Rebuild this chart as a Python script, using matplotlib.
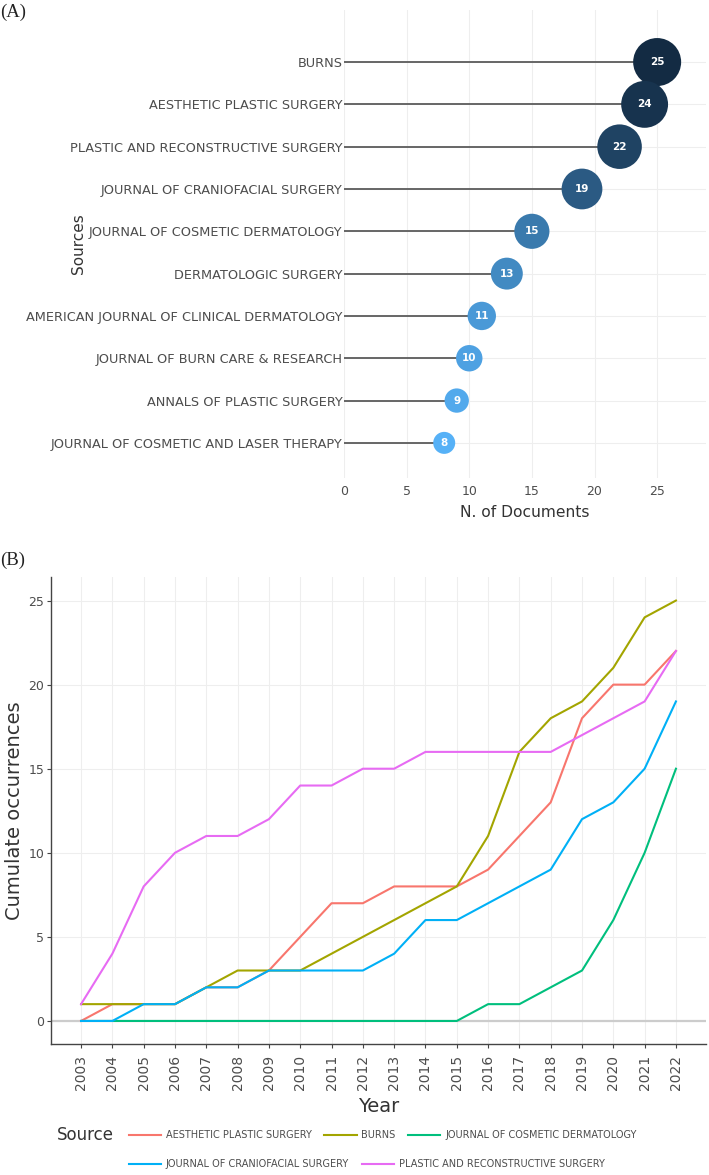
import numpy as np
import matplotlib.pyplot as plt
from matplotlib.colors import LinearSegmentedColormap
from matplotlib.lines import Line2D

plt.rcParams['font.family'] = ['DejaVu Sans']

# panel A data (top to bottom)
sources = ['BURNS', 'AESTHETIC PLASTIC SURGERY', 'PLASTIC AND RECONSTRUCTIVE SURGERY',
           'JOURNAL OF CRANIOFACIAL SURGERY', 'JOURNAL OF COSMETIC DERMATOLOGY',
           'DERMATOLOGIC SURGERY', 'AMERICAN JOURNAL OF CLINICAL DERMATOLOGY',
           'JOURNAL OF BURN CARE & RESEARCH', 'ANNALS OF PLASTIC SURGERY',
           'JOURNAL OF COSMETIC AND LASER THERAPY']
n_docs = [25, 24, 22, 19, 15, 13, 11, 10, 9, 8]

# panel B data
years = list(range(2003, 2023))
aesthetic = [0, 1, 1, 1, 2, 2, 3, 5, 7, 7, 8, 8, 8, 9, 11, 13, 18, 20, 20, 22]
burns = [1, 1, 1, 1, 2, 3, 3, 3, 4, 5, 6, 7, 8, 11, 16, 18, 19, 21, 24, 25]
cosmetic_derm = [0, 0, 0, 0, 0, 0, 0, 0, 0, 0, 0, 0, 0, 1, 1, 2, 3, 6, 10, 15]
craniofacial = [0, 0, 1, 1, 2, 2, 3, 3, 3, 3, 4, 6, 6, 7, 8, 9, 12, 13, 15, 19]
plastic_recon = [1, 4, 8, 10, 11, 11, 12, 14, 14, 15, 15, 16, 16, 16, 16, 16, 17, 18, 19, 22]
series_names = ['AESTHETIC PLASTIC SURGERY', 'BURNS', 'JOURNAL OF COSMETIC DERMATOLOGY',
                'JOURNAL OF CRANIOFACIAL SURGERY', 'PLASTIC AND RECONSTRUCTIVE SURGERY']
series_vals = [aesthetic, burns, cosmetic_derm, craniofacial, plastic_recon]
series_cols = ['#F8766D', '#A3A500', '#00BF7D', '#00B0F6', '#E76BF3']

W, H = 709, 1175
fig = plt.figure(figsize=(W / 100, H / 100), dpi=100)

def px_rect(l, t, r, b):
    return [l / W, 1 - b / H, (r - l) / W, (b - t) / H]

txt = '#4d4d4d'
grid = '#eeeeee'

# ---------------- panel A ----------------
axA = fig.add_axes(px_rect(344, 10, 706, 478))
ypos = np.arange(len(sources))[::-1]
vals = np.array(n_docs)
cmap = LinearSegmentedColormap.from_list('blues', ['#56B1F7', '#132B43'])
cols = cmap((vals - vals.min()) / (vals.max() - vals.min()))
diam = np.sqrt(22**2 + (vals - 8) * (48**2 - 22**2) / 17)   # pixels
axA.hlines(ypos, 0, vals, color='#666666', lw=1.4, zorder=2)
axA.scatter(vals, ypos, s=(diam * 0.72)**2, c=cols, zorder=3, linewidths=0)
for v, y in zip(vals, ypos):
    axA.text(v, y, str(v), color='white', ha='center', va='center',
             fontsize=7.5, fontweight='bold', zorder=4)
axA.set_xlim(0, 28.9)
axA.set_ylim(-0.83, 10.23)
axA.set_yticks(ypos)
axA.set_yticklabels(sources, color=txt)
axA.set_xticks([0, 5, 10, 15, 20, 25])
axA.tick_params(axis='both', length=0, labelsize=9, labelcolor=txt)
axA.tick_params(axis='y', pad=1, labelsize=9.3)
axA.tick_params(axis='x', pad=5)
axA.set_xlabel('N. of Documents', fontsize=11.2, color='#333333', labelpad=5)
for s in axA.spines.values():
    s.set_visible(False)
axA.grid(True, color=grid, lw=0.8, zorder=0)
axA.set_axisbelow(True)
fig.text(78 / W, 1 - 244 / H, 'Sources', rotation=90, ha='center', va='center',
         fontsize=11, color='#333333')
fig.text(0, 1 - 12 / H, '(A)', family='Liberation Serif', fontsize=13.5,
         ha='left', va='center', color='#222222')

# ---------------- panel B ----------------
axB = fig.add_axes(px_rect(51, 577, 706, 1044))
for name, v, c in zip(series_names, series_vals, series_cols):
    axB.plot(years, v, color=c, lw=1.5, label=name, zorder=3)
axB.axhline(0, color='#cccccc', lw=1.6, zorder=1)
axB.set_xlim(2002.04, 2022.96)
axB.set_ylim(-1.37, 26.4)
axB.set_xticks(years)
axB.set_xticklabels([str(y) for y in years], rotation=90, fontsize=10)
axB.set_yticks([0, 5, 10, 15, 20, 25])
axB.tick_params(axis='both', length=3, color='#444444', labelcolor=txt)
axB.tick_params(axis='y', labelsize=9, pad=2)
axB.tick_params(axis='x', pad=5)
for s in ['top', 'right']:
    axB.spines[s].set_visible(False)
for s in ['left', 'bottom']:
    axB.spines[s].set_color('#444444')
    axB.spines[s].set_linewidth(1)
axB.grid(True, color=grid, lw=0.8, zorder=0)
axB.set_axisbelow(True)
axB.set_xlabel('Year', fontsize=14, color='#333333', labelpad=5)
axB.set_ylabel('Cumulate occurrences', fontsize=14, color='#333333', labelpad=3)
fig.text(0, 1 - 560 / H, '(B)', family='Liberation Serif', fontsize=13.5,
         ha='left', va='center', color='#222222')

# legend in two rows like the original
fig.text(57 / W, 1 - 1135 / H, 'Source', fontsize=12, color='#333333', ha='left', va='center')
handles = [Line2D([], [], color=c, lw=1.5) for c in series_cols]
leg_kw = dict(frameon=False, fontsize=7, handlelength=3.3, handletextpad=0.5,
              columnspacing=1.3, borderpad=0, borderaxespad=0, loc='center left')
leg1 = fig.legend(handles[:3], series_names[:3], ncol=3,
                  bbox_to_anchor=(129 / W, 1 - 1135 / H), **leg_kw)
for t in leg1.get_texts():
    t.set_color(txt)
leg2 = fig.legend(handles[3:], series_names[3:], ncol=2,
                  bbox_to_anchor=(129 / W, 1 - 1164 / H), **leg_kw)
for t in leg2.get_texts():
    t.set_color(txt)

fig.savefig('out.png', dpi=100)
